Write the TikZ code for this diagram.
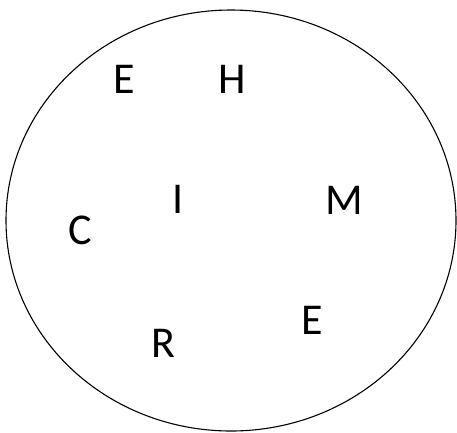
\documentclass[tikz,border=0pt]{standalone}
\usepackage{fontspec}
\setmainfont{Carlito}
\begin{document}
\begin{tikzpicture}[x=1pt,y=-1pt,
  letter/.style={inner sep=0pt,font=\fontsize{44}{44}\selectfont}]
\useasboundingbox (0,0) rectangle (457,432);
\draw[line width=1.1pt] (231,220.5) ellipse [x radius=225, y radius=210.5];
\node[letter] (e1) at (124,79) {E};
\node[letter] (h) at (232.5,79) {H};
\node[letter] (i) at (178,199) {I};
\node[letter] (m) at (344,200) {M};
\node[letter] (c) at (80,230) {C};
\node[letter] (r) at (163,343.5) {R};
\node[letter] (e2) at (312,320.5) {E};
\end{tikzpicture}
\end{document}
